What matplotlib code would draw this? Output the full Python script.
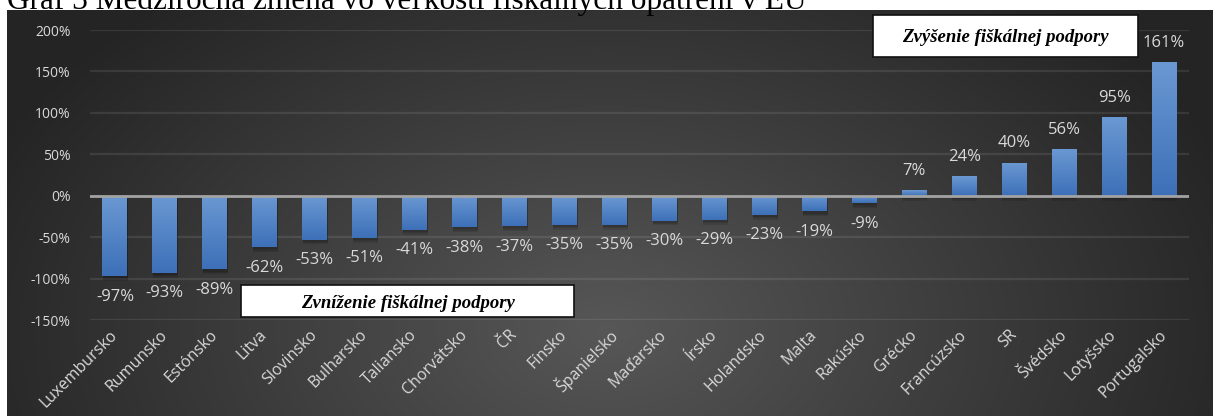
import numpy as np
import matplotlib
matplotlib.use("Agg")
import matplotlib.pyplot as plt
from matplotlib.colors import LinearSegmentedColormap
from matplotlib.patches import Rectangle
import matplotlib.patheffects as pe

countries = ["Luxembursko", "Rumunsko", "Estónsko", "Litva", "Slovinsko", "Bulharsko",
             "Taliansko", "Chorvátsko", "ČR", "Fínsko", "Španielsko", "Maďarsko",
             "Írsko", "Holandsko", "Malta", "Rakúsko", "Grécko", "Francúzsko",
             "SR", "Švédsko", "Lotyšsko", "Portugalsko"]
changes = [-97, -93, -89, -62, -53, -51, -41, -38, -37, -35, -35, -30,
           -29, -23, -19, -9, 7, 24, 40, 56, 95, 161]
yticks = [-150, -100, -50, 0, 50, 100, 150, 200]

title = "Graf 3 Medziročná zmena vo veľkosti fiškálnych opatrení v EÚ"
box_up = "Zvýšenie fiškálnej podpory"
box_down = "Zvníženie fiškálnej podpory"

W, H = 1213, 416
fig = plt.figure(figsize=(W / 100, H / 100), dpi=100)
fig.patch.set_facecolor("white")

# background panel with radial gradient
px0, py0 = 7, 10
bg = fig.add_axes([px0 / W, 0, 1 - px0 / W, (H - py0) / H])
bg.set_axis_off()
pw, ph = W - px0, H - py0
xx, yy = np.meshgrid(np.arange(pw), np.arange(ph))
cx, cy = 600, 320
r = np.sqrt(((xx - cx) / 680.0) ** 2 + ((yy - cy) / 440.0) ** 2)
r = np.clip(r, 0, 1)
c0, c1 = 0x57 / 255, 0x24 / 255
val = c0 + (c1 - c0) * r
img = np.dstack([val, val, val])
bg.imshow(img, aspect="auto", extent=[0, 1, 0, 1], origin="upper")
bg.set_xlim(0, 1)
bg.set_ylim(0, 1)

# main axes
left, right = 90, 1189
top, bottom = 30, 320
ax = fig.add_axes([left / W, 1 - bottom / H, (right - left) / W, (bottom - top) / H])
ax.set_facecolor("none")

x = np.arange(len(countries))
shadow = [pe.SimplePatchShadow(offset=(0.5, -d), shadow_rgbFace="k", alpha=0.10)
          for d in (3.5, 2.5, 1.5)]
bars = ax.bar(x, changes, width=0.5, color="#4f81c4", zorder=3,
              path_effects=shadow + [pe.Normal()])

cmap = LinearSegmentedColormap.from_list("barg", ["#3d70b8", "#6a98d2"])
grad = np.linspace(0, 1, 100).reshape(-1, 1)
for p in bars:
    x0, w = p.get_x(), p.get_width()
    y0, h = p.get_y(), p.get_height()
    ymin, ymax = min(y0, y0 + h), max(y0, y0 + h)
    im = ax.imshow(grad, extent=[x0, x0 + w, ymin, ymax], origin="lower",
                   aspect="auto", cmap=cmap, zorder=4)
    im.set_clip_path(p)

ax.set_xlim(-0.5, len(countries) - 0.5)
ax.set_ylim(-150, 200)

for yv in yticks:
    if yv == 0:
        continue
    ax.axhline(yv, color=(1, 1, 1, 0.09), lw=1.6, zorder=1)
ax.axhline(0, color="#a3a3a3", lw=2, zorder=5)

for s in ax.spines.values():
    s.set_visible(False)

txtc = "#d9d9d9"
ax.set_yticks(yticks)
ax.set_yticklabels([f"{v}%" for v in yticks], fontsize=10, color=txtc, family="Open Sans")
ax.set_xticks(x)
ax.set_xticklabels(countries, rotation=45, ha="right", va="center", rotation_mode="anchor",
                   fontsize=11.5, color=txtc, family="Open Sans")
ax.tick_params(axis="both", length=0)
ax.tick_params(axis="y", pad=14)
ax.tick_params(axis="x", pad=9)

for xi, v in zip(x, changes):
    if v >= 0:
        ax.annotate(f"{v}%", (xi, v), xytext=(0, 8), textcoords="offset points",
                    ha="center", va="bottom", fontsize=12, color=txtc, family="Open Sans")
    else:
        ax.annotate(f"{v}%", (xi, v), xytext=(0, -9), textcoords="offset points",
                    ha="center", va="top", fontsize=12, color=txtc, family="Open Sans")

# annotation boxes
def box(x0, y0, x1, y1, text, dy):
    fig.add_artist(Rectangle((x0 / W, 1 - y1 / H), (x1 - x0) / W, (y1 - y0) / H,
                             transform=fig.transFigure, facecolor="white",
                             edgecolor="#111111", lw=1.2, zorder=10))
    fig.text((x0 + x1) / 2 / W, 1 - ((y0 + y1) / 2 + dy) / H, text, ha="center", va="center",
             family="Liberation Serif", fontweight="bold", fontstyle="italic",
             fontsize=13.5, color="black", zorder=11)

box(873, 15, 1138, 57, box_up, 1)
box(241, 285, 574, 317, box_down, 3)

fig.text(px0 / W, 1 - 8.5 / H, title, ha="left", va="baseline",
         family="Liberation Serif", fontsize=22.5, color="black")

fig.savefig("out.png", dpi=100)
